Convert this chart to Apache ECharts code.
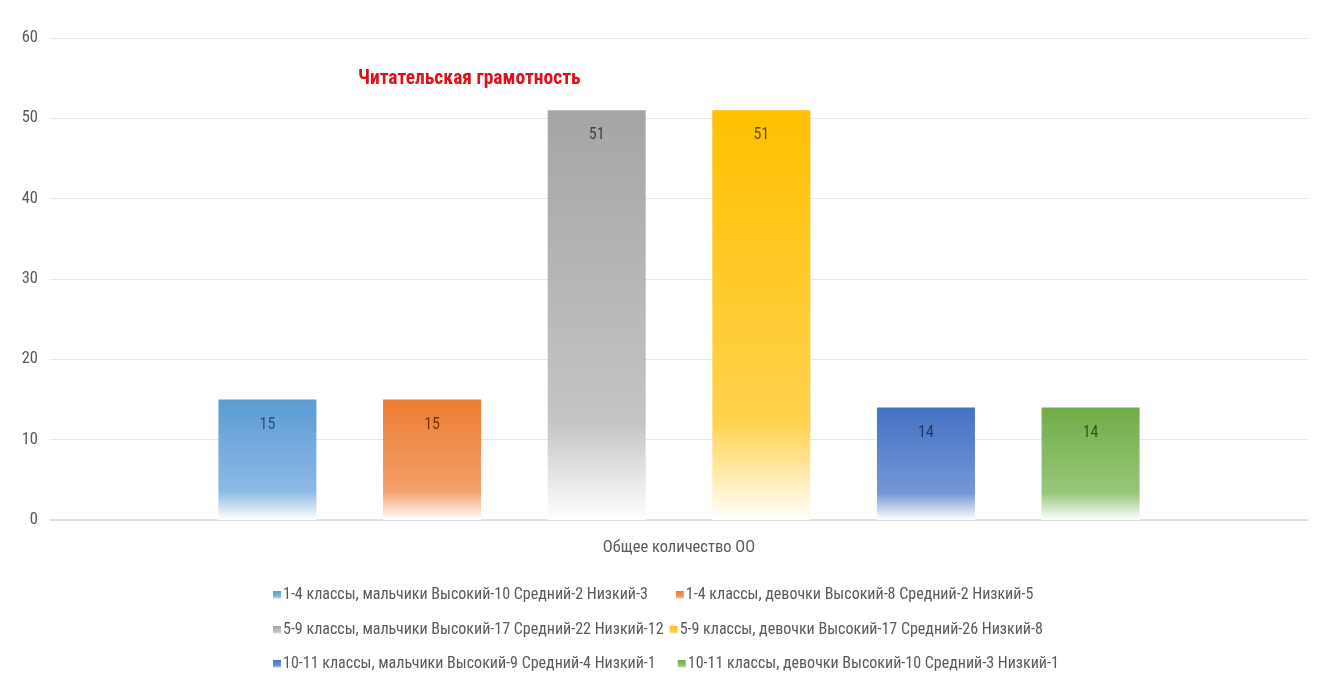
<!DOCTYPE html>
<html>
<head>
<meta charset="utf-8">
<script src="https://cdn.jsdelivr.net/npm/echarts@6/dist/echarts.min.js"></script>
<style>html,body{margin:0;padding:0;background:#fff}#c{width:1322px;height:679px}</style>
</head>
<body>
<div id="c"></div>
<script>
const categories = ['Общее количество ОО'];
const seriesNames = [
  '1-4 классы, мальчики Высокий-10 Средний-2 Низкий-3',
  '1-4 классы, девочки Высокий-8 Средний-2 Низкий-5',
  '5-9 классы, мальчики Высокий-17 Средний-22 Низкий-12',
  '5-9 классы, девочки Высокий-17 Средний-26 Низкий-8',
  '10-11 классы, мальчики Высокий-9 Средний-4 Низкий-1',
  '10-11 классы, девочки Высокий-10 Средний-3 Низкий-1'
];
const seriesValues = [15, 15, 51, 51, 14, 14];
const yTicks = [0, 10, 20, 30, 40, 50, 60];
const titleText = 'Читательская грамотность';

const colors = ['#5b9bd5', '#ed7d31', '#a5a5a5', '#ffc000', '#4472c4', '#70ad47'];
const mids = ['#8cb9e3', '#f2a06a', '#c4c4c4', '#ffd24d', '#7596d6', '#98c67a'];
const labelColors = ['#2f4f73', '#6b3310', '#404040', '#6b4f00', '#203864', '#2f5a1a'];
const font = '"Liberation Sans Narrow", "Roboto Condensed", "Liberation Sans", sans-serif';

const chart = echarts.init(document.getElementById('c'), null, {renderer: 'canvas'});

const series = seriesNames.map((n, i) => ({
  name: n,
  type: 'bar',
  data: [seriesValues[i]],
  barWidth: 98,
  barGap: '68%',
  itemStyle: {
    color: new echarts.graphic.LinearGradient(0, 0, 0, 1, [
      {offset: 0, color: colors[i]},
      {offset: 0.76, color: mids[i]},
      {offset: 1, color: '#ffffff'}
    ])
  },
  label: {
    show: true,
    position: 'insideTop',
    distance: 17,
    color: labelColors[i],
    fontFamily: font,
    fontSize: 16
  }
}));

function legendRow(items, top, gap) {
  return {
    data: items,
    top: top,
    left: 268,
    itemWidth: 8,
    itemHeight: 8,
    itemGap: gap,
    icon: 'rect',
    textStyle: {color: '#595959', fontFamily: font, fontSize: 16, padding: [0, 0, 0, -3]},
    selectedMode: false
  };
}

chart.setOption({
  animation: false,
  color: colors,
  title: {
    text: titleText,
    left: 353,
    top: 64,
    textStyle: {color: '#e0101a', fontFamily: font, fontSize: 19.5, fontWeight: 'bold'}
  },
  legend: [
    legendRow([seriesNames[0], seriesNames[1]], 582, 28),
    legendRow([seriesNames[2], seriesNames[3]], 617, 6),
    legendRow([seriesNames[4], seriesNames[5]], 651, 22)
  ],
  grid: {left: 50, right: 14, top: 38, bottom: 159, containLabel: false},
  xAxis: {
    type: 'category',
    data: categories,
    axisLine: {show: true, lineStyle: {color: '#d9d9d9', width: 1.5}},
    axisTick: {show: false},
    axisLabel: {color: '#595959', fontFamily: font, fontSize: 16.5, margin: 19}
  },
  yAxis: {
    type: 'value',
    min: yTicks[0],
    max: yTicks[yTicks.length - 1],
    interval: 10,
    axisLine: {show: false},
    axisTick: {show: false},
    splitLine: {lineStyle: {color: '#e8e8e8', width: 1}},
    axisLabel: {color: '#595959', fontFamily: font, fontSize: 16.5, margin: 12}
  },
  series: series
});
</script>
</body>
</html>
